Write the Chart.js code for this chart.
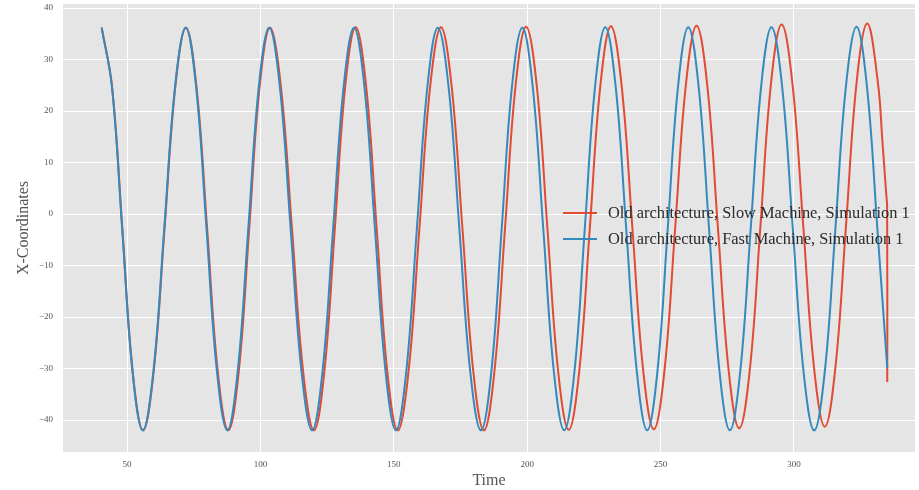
<!DOCTYPE html>
<html>
<head>
<meta charset="utf-8">
<script src="https://cdn.jsdelivr.net/npm/chart.js@4"></script>
<style>
  html, body { margin: 0; padding: 0; background: #fff; }
  #wrap { width: 919px; height: 490px; }
</style>
</head>
<body>
<div id="wrap"><canvas id="chart" width="919" height="490"></canvas></div>
<script>
// ── Data ─────────────────────────────────────────────────────────────────────

const seriesLabels = [
  'Old architecture, Slow Machine, Simulation 1',
  'Old architecture, Fast Machine, Simulation 1'
];

const slowTime = [
  40.5, 44.4, 48.25, 52.1, 56.0, 60.0, 64.05, 68.1,
  72.1, 76.05, 80.05, 84.0, 88.0, 91.9, 95.8, 99.7,
  103.6, 107.7, 111.85, 116.0, 120.1, 124.0, 127.9, 131.8,
  135.7, 139.65, 143.6, 147.55, 151.5, 155.55, 159.6, 163.65,
  167.7, 171.7, 175.75, 179.8, 183.8, 187.75, 191.7, 195.65,
  199.6, 203.6, 207.6, 211.6, 215.6, 219.55, 223.5, 227.45,
  231.4, 235.4, 239.45, 243.5, 247.5, 251.5, 255.5, 259.5,
  263.5, 267.5, 271.5, 275.5, 279.5, 283.5, 287.45, 291.4,
  295.4, 299.45, 303.5, 307.55, 311.6, 315.55, 319.55, 323.5,
  327.5, 331.5, 333.2, 334.6, 334.95, 335.0
];
const slowX = [
  36.2, 24.7, -2.9, -30.5, -42.0, -30.5, -2.9, 24.7,
  36.2, 24.7, -2.9, -30.5, -42.0, -30.5, -2.9, 24.7,
  36.2, 24.7, -2.9, -30.5, -42.0, -30.5, -2.85, 24.8,
  36.3, 24.8, -2.85, -30.5, -42.0, -30.5, -2.85, 24.8,
  36.3, 24.8, -2.85, -30.5, -42.0, -30.5, -2.8, 24.9,
  36.4, 24.95, -2.75, -30.45, -41.9, -30.4, -2.7, 25.0,
  36.5, 25.05, -2.65, -30.35, -41.8, -30.3, -2.6, 25.1,
  36.6, 25.15, -2.5, -30.15, -41.6, -30.1, -2.4, 25.3,
  36.8, 25.35, -2.25, -29.85, -41.3, -29.85, -2.15, 25.55,
  37.0, 25.5, 14.0, 4.0, 1.5, -32.6
];

const fastTime = [
  40.5, 44.35, 48.2, 52.05, 55.9, 59.9, 63.95, 68.0,
  72.0, 75.9, 79.8, 83.7, 87.6, 91.5, 95.45, 99.4,
  103.3, 107.3, 111.35, 115.4, 119.4, 123.3, 127.25, 131.2,
  135.1, 139.0, 142.95, 146.9, 150.8, 154.7, 158.65, 162.6,
  166.5, 170.55, 174.6, 178.65, 182.7, 186.6, 190.45, 194.3,
  198.2, 202.1, 206.05, 210.0, 213.9, 217.75, 221.6, 225.45,
  229.3, 233.2, 237.15, 241.1, 245.0, 248.85, 252.7, 256.55,
  260.4, 264.3, 268.2, 272.1, 276.0, 279.9, 283.8, 287.7,
  291.6, 295.6, 299.6, 303.6, 307.6, 311.6, 315.55, 319.5,
  323.5, 327.4, 331.3, 335.0
];
const fastX = [
  36.2, 24.7, -2.9, -30.5, -42.0, -30.5, -2.9, 24.7,
  36.2, 24.7, -2.9, -30.5, -42.0, -30.5, -2.9, 24.7,
  36.2, 24.7, -2.9, -30.5, -42.0, -30.5, -2.9, 24.7,
  36.2, 24.7, -2.9, -30.5, -42.0, -30.5, -2.9, 24.7,
  36.2, 24.7, -2.9, -30.5, -42.0, -30.5, -2.9, 24.7,
  36.2, 24.7, -2.9, -30.5, -42.0, -30.5, -2.9, 24.7,
  36.3, 24.7, -2.9, -30.5, -42.0, -30.5, -2.9, 24.7,
  36.3, 24.7, -2.9, -30.5, -42.0, -30.5, -2.9, 24.7,
  36.3, 24.7, -2.9, -30.5, -42.0, -30.5, -2.9, 24.8,
  36.4, 24.7, -2.9, -29.9
];

const xTicks = [50, 100, 150, 200, 250, 300];
const yTicks = [-40, -30, -20, -10, 0, 10, 20, 30, 40];

// ── Styling ──────────────────────────────────────────────────────────────────

const RED  = '#E24A33';
const BLUE = '#348ABD';
const SERIF = '"Liberation Serif", "DejaVu Serif", serif';

const fmtTick = v => (v < 0 ? '\u2212' + Math.abs(v) : String(v));
const toPoints = (ts, vs) => ts.map((t, i) => ({ x: t, y: vs[i] }));

// grey panel behind the plot area
const panelBg = {
  id: 'panelBg',
  beforeDraw(chart) {
    const { ctx, chartArea: a } = chart;
    ctx.save();
    ctx.fillStyle = '#E5E5E5';
    ctx.fillRect(a.left, a.top, a.right - a.left, a.bottom - a.top);
    ctx.restore();
  }
};

// matplotlib-style legend sitting inside the axes
const innerLegend = {
  id: 'innerLegend',
  afterDatasetsDraw(chart) {
    const { ctx } = chart;
    const x0 = 563, x1 = 597, tx = 608;
    const rows = [213, 239];
    ctx.save();
    ctx.font = '16.4px ' + SERIF;
    ctx.textBaseline = 'middle';
    chart.data.datasets.forEach((ds, i) => {
      const y = rows[i];
      ctx.strokeStyle = ds.borderColor;
      ctx.lineWidth = 2;
      ctx.beginPath();
      ctx.moveTo(x0, y);
      ctx.lineTo(x1, y);
      ctx.stroke();
      ctx.fillStyle = '#2b2b2b';
      ctx.fillText(ds.label, tx, y + 1);
    });
    ctx.restore();
  }
};

// ── Chart ────────────────────────────────────────────────────────────────────

new Chart(document.getElementById('chart').getContext('2d'), {
  type: 'line',
  data: {
    datasets: [
      { label: seriesLabels[0], data: toPoints(slowTime, slowX), borderColor: RED,  order: 1 },
      { label: seriesLabels[1], data: toPoints(fastTime, fastX), borderColor: BLUE, order: 0 }
    ]
  },
  options: {
    responsive: false,
    animation: false,
    layout: { padding: { top: 4, right: 4, left: 0, bottom: 0 } },
    elements: {
      point: { radius: 0 },
      line: { borderWidth: 2, tension: 0.4, fill: false }
    },
    plugins: { legend: { display: false }, tooltip: { enabled: false } },
    scales: {
      x: {
        type: 'linear',
        min: 26, max: 345.4,
        afterBuildTicks: s => { s.ticks = xTicks.map(v => ({ value: v })); },
        afterFit: s => { s.height = 38; s.paddingLeft = 0; s.paddingRight = 0; },
        grid: { color: '#FFFFFF', lineWidth: 1, drawTicks: false },
        border: { display: false },
        ticks: { color: '#555555', padding: 7, font: { family: SERIF, size: 9 }, callback: fmtTick, maxRotation: 0 },
        title: { display: true, text: 'Time', color: '#555555', padding: { top: 0, bottom: 0 }, font: { family: SERIF, size: 16 } }
      },
      y: {
        min: -46.2, max: 40.8,
        afterBuildTicks: s => { s.ticks = yTicks.map(v => ({ value: v })); },
        afterFit: s => { s.width = 63; s.paddingTop = 0; s.paddingBottom = 0; },
        grid: { color: '#FFFFFF', lineWidth: 1, drawTicks: false },
        border: { display: false },
        ticks: { color: '#555555', padding: 10, font: { family: SERIF, size: 9 }, callback: fmtTick },
        title: { display: true, text: 'X-Coordinates', color: '#555555', padding: { top: 14, bottom: 0 }, font: { family: SERIF, size: 16 } }
      }
    }
  },
  plugins: [panelBg, innerLegend]
});
</script>
</body>
</html>
